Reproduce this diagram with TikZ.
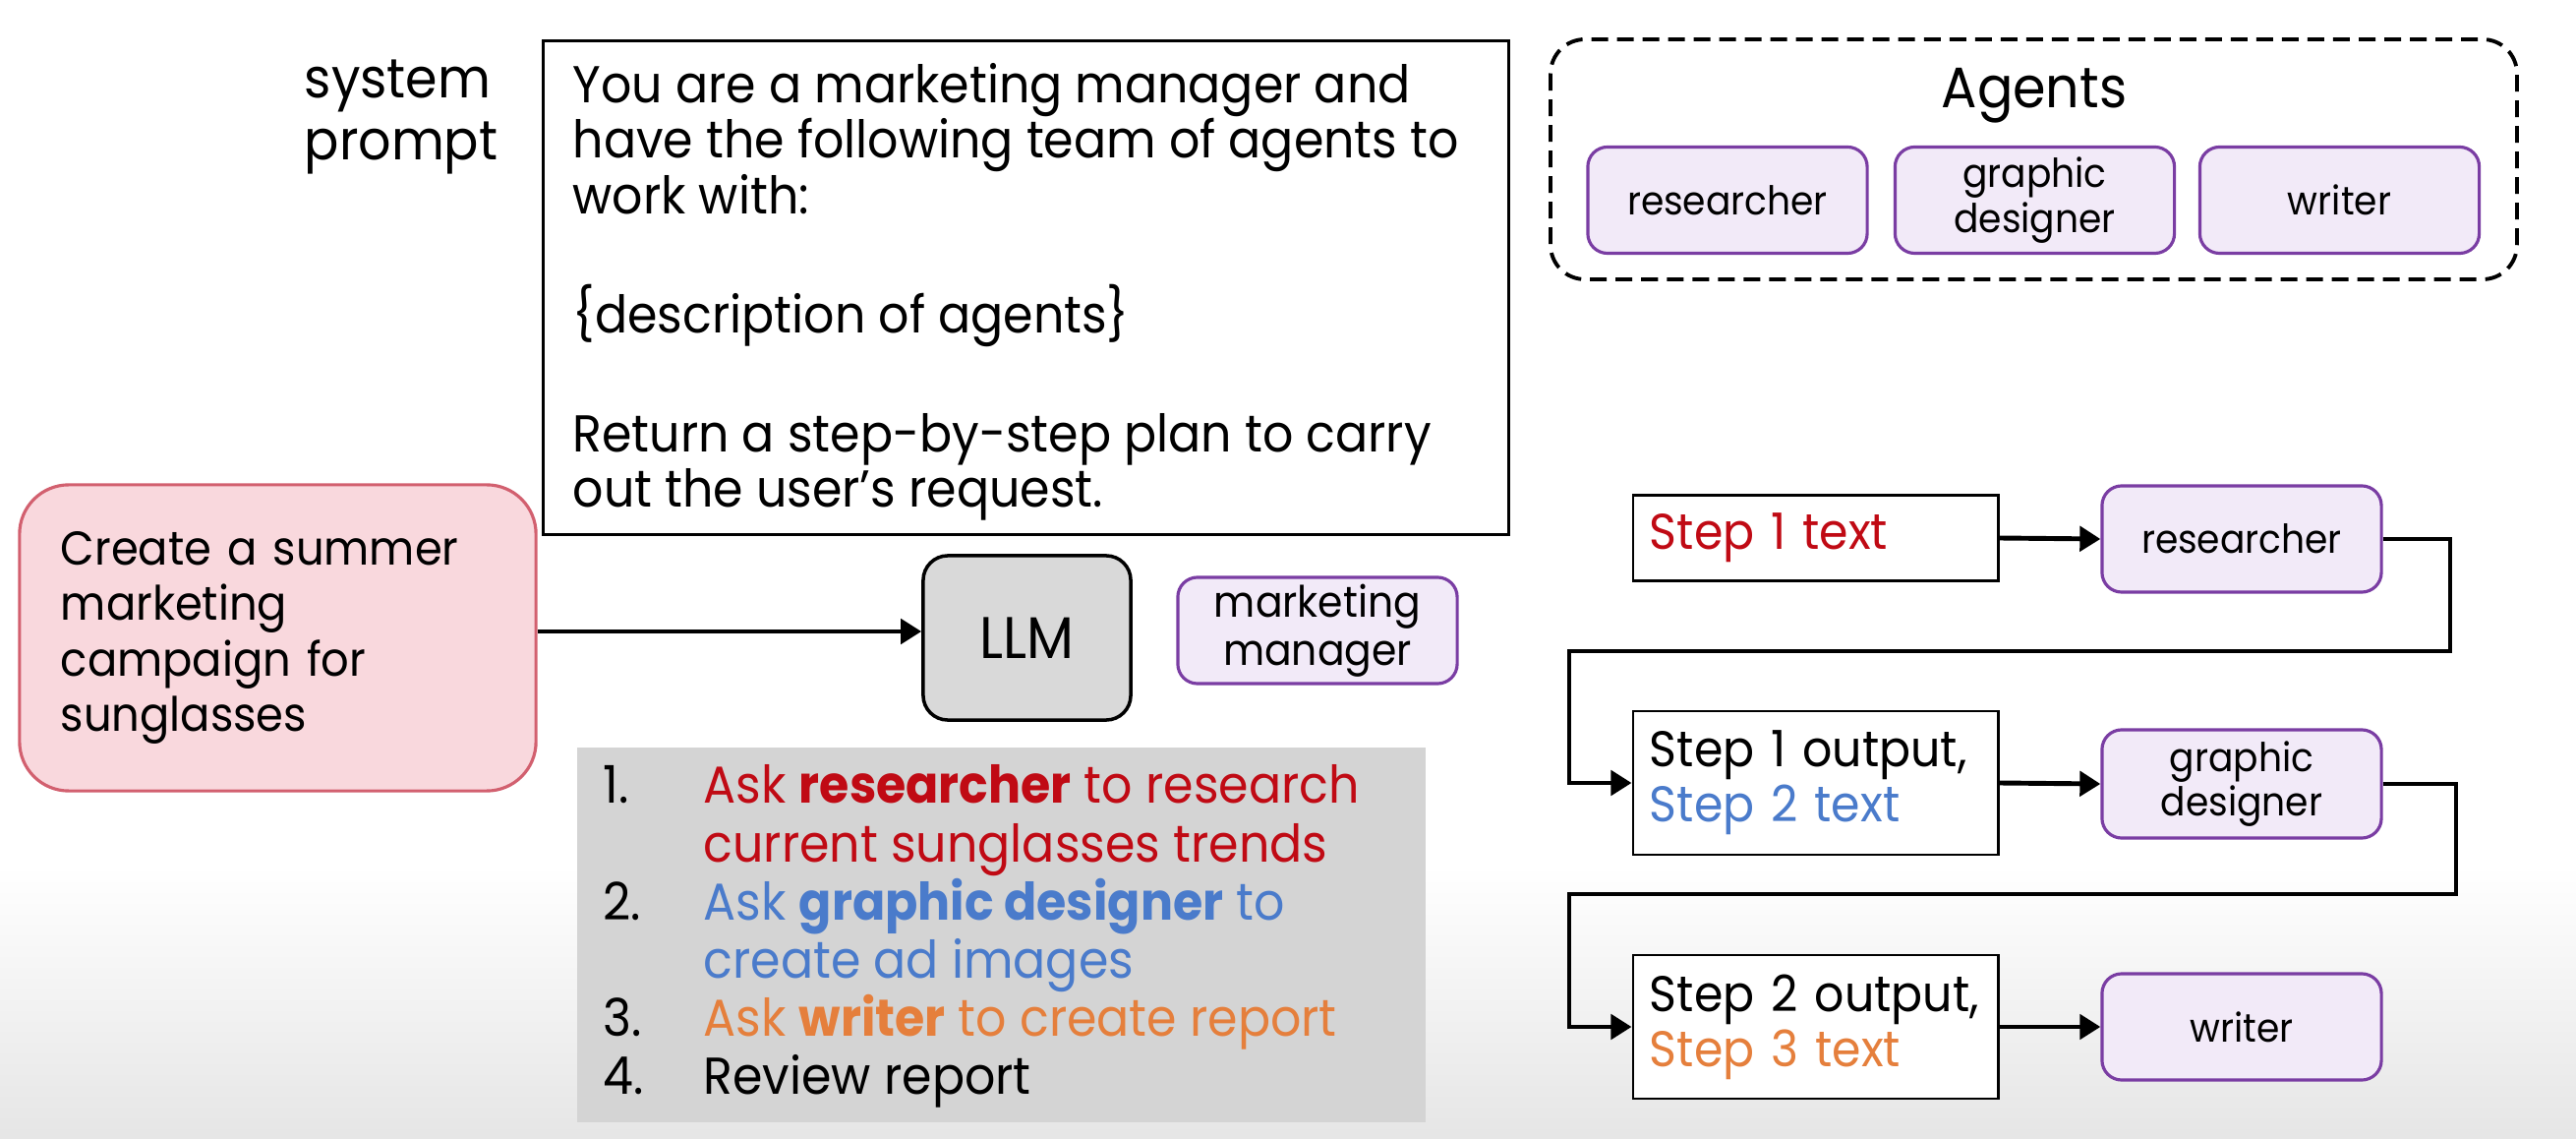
\documentclass[tikz,border=0pt]{standalone}
\usepackage{fontspec}
\setmainfont{Poppins}[FakeStretch=0.93]
\usetikzlibrary{arrows.meta}
\hyphenpenalty=10000
\exhyphenpenalty=10000
\definecolor{lav}{HTML}{F2EAF8}
\definecolor{purp}{HTML}{7A3DA3}
\definecolor{pinkfill}{HTML}{F9D8DD}
\definecolor{pinkline}{HTML}{D2606F}
\definecolor{llmgrey}{HTML}{D9D9D9}
\definecolor{plangrey}{HTML}{D4D4D4}
\definecolor{stepred}{HTML}{C00A14}
\definecolor{stepblue}{HTML}{4A7BCB}
\definecolor{steporange}{HTML}{E57F3C}
\tikzset{
  body/.style={font=\fontsize{15}{16}\selectfont},
  agent/.style={draw=purp, line width=0.9pt, fill=lav, rounded corners=0.2cm, align=center,
    font=\fontsize{11.5}{13}\selectfont, inner sep=0pt, minimum width=2.84cm, minimum height=1.08cm},
  stepbox/.style={draw=black, line width=0.8pt, fill=white, align=left, inner xsep=0.17cm, inner ysep=0pt,
    text width=3.37cm, minimum height=0.87cm, font=\fontsize{14.5}{16}\selectfont},
  conn/.style={line width=1.4pt, -{Triangle[length=0.21cm,width=0.25cm]}},
}
\begin{document}
\begin{tikzpicture}[x=0.01cm,y=-0.01cm]
\useasboundingbox (0,0) rectangle (2620,1158);
\shade[top color=white, bottom color=black!10, draw=none] (0,880) rectangle (2620,1158);

% system prompt
\node[anchor=west, align=left, inner sep=0pt, font=\fontsize{16}{18}\selectfont] (sys) at (309,119) {system\\prompt};
\node[draw=black, line width=0.8pt, minimum width=9.81cm, minimum height=5.01cm, inner sep=0pt] (prompt) at (1043.5,292.5) {};
\node[anchor=west, align=left, body, inner sep=0pt] (prompttext) at (582,297)
  {You are a marketing manager and\\have the following team of agents to\\work with:\\[0.65cm]
   \{description of agents\}\\[0.65cm]
   Return a step-by-step plan to carry\\out the user’s request.};

% agents
\draw[line width=1.1pt, dash pattern=on 0.17cm off 0.09cm, rounded corners=0.35cm] (1577,40) rectangle (2560,284);
\node[font=\fontsize{16.5}{18}\selectfont] (agentstitle) at (2069,97) {Agents};
\node[agent] (ar) at (1757,203.5) {researcher};
\node[agent] (ag) at (2069.5,203.5) {graphic\\designer};
\node[agent] (aw) at (2379.5,203.5) {writer};

% request
\node[draw=pinkline, fill=pinkfill, line width=0.9pt, rounded corners=0.5cm, minimum width=5.25cm,
  minimum height=3.11cm, align=left, text width=4.41cm, inner xsep=0.42cm,
  font=\fontsize{13.7}{16}\selectfont] (req) at (282.5,648.5)
  {\mbox{Create a summer}\\marketing\\\mbox{campaign for}\\sunglasses};
\node[draw=black, fill=llmgrey, line width=1pt, rounded corners=0.25cm, minimum width=2.11cm,
  minimum height=1.67cm, inner sep=0pt, font=\fontsize{17}{18}\selectfont] (llm) at (1044.5,648.5) {LLM};
\node[agent, font=\fontsize{12.5}{14}\selectfont] (mm) at (1340,641) {marketing\\manager};
\draw[conn] (req.east |- 0,642) -- (llm.west |- 0,642);

% plan
\node[fill=plangrey, minimum width=8.63cm, minimum height=3.81cm, inner sep=0pt] (plan) at (1018.5,950.5) {};
\node[anchor=west, align=left, inner sep=0pt, font=\fontsize{15}{16.8}\selectfont] (plantext) at (613,952)
  {\makebox[1.02cm][l]{1.}\textcolor{stepred}{Ask \textbf{researcher} to research}\\
   \hspace*{1.02cm}\textcolor{stepred}{current sunglasses trends}\\
   \makebox[1.02cm][l]{2.}\textcolor{stepblue}{Ask \textbf{graphic designer} to}\\
   \hspace*{1.02cm}\textcolor{stepblue}{create ad images}\\
   \makebox[1.02cm][l]{3.}\textcolor{steporange}{Ask \textbf{writer} to create report}\\
   \makebox[1.02cm][l]{4.}Review report};

% flow
\node[stepbox] (s1) at (1846.5,547) {\textcolor{stepred}{Step 1 text}};
\node[stepbox, minimum height=1.46cm] (s2) at (1846.5,796) {\mbox{Step 1 output,}\\\textcolor{stepblue}{Step 2 text}};
\node[stepbox, minimum height=1.46cm] (s3) at (1846.5,1044) {\mbox{Step 2 output,}\\\textcolor{steporange}{Step 3 text}};
\node[agent] (fr) at (2280,548) {researcher};
\node[agent, minimum height=1.1cm] (fg) at (2280,797) {graphic\\designer};
\node[agent] (fw) at (2280,1044) {writer};

\draw[conn] (s1.east) -- (fr.west);
\draw[conn] (s2.east) -- (fg.west);
\draw[conn] (s3.east) -- (fw.west);
\draw[conn] (fr.east) -- (2492,548) -- (2492,662) -- (1596,662) -- (1596,796) -- (s2.west);
\draw[conn] (fg.east) -- (2498,797) -- (2498,909) -- (1596,909) -- (1596,1044) -- (s3.west);
\end{tikzpicture}
\end{document}
